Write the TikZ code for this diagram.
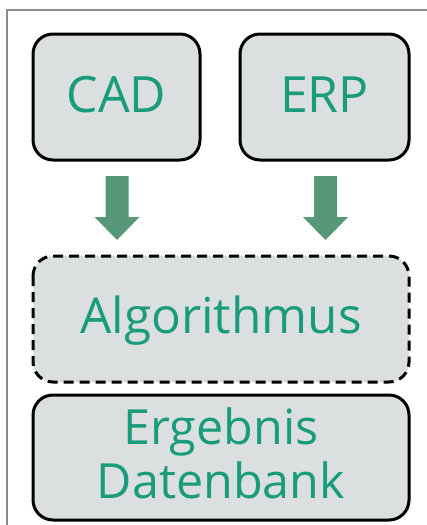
\documentclass[tikz,border=0pt]{standalone}
\usepackage{fontspec}
\setmainfont{Open Sans}
\definecolor{txtgreen}{RGB}{24,156,124}
\definecolor{arrgreen}{RGB}{88,152,122}
\definecolor{boxgray}{RGB}{220,223,224}
\definecolor{framegray}{RGB}{140,140,140}
\tikzset{
  box/.style={draw=black, line width=3pt, fill=boxgray, rounded corners=20pt, inner sep=0pt},
  dbox/.style={box, dash pattern=on 10pt off 6pt},
  lbl/.style={text=txtgreen, font=\fontsize{50}{54}\selectfont, align=center, inner sep=0pt},
  bigarrow/.style={fill=arrgreen, draw=none}
}
\begin{document}
\begin{tikzpicture}[x=1pt,y=-1pt]
\useasboundingbox (0,0) rectangle (426,525);
% frame
\draw[framegray, line width=2pt] (7,526) -- (7,10) -- (427,10);
% boxes
\draw[box] (33,34) rectangle (200,160);
\draw[box] (240,34) rectangle (409,160);
\draw[dbox] (33,256) rectangle (409,382);
\draw[box] (33,395) rectangle (409,520);
\node[lbl, anchor=base] (cad) at (116.5,112) {CAD};
\node[lbl, anchor=base] (erp) at (324.5,112) {ERP};
\node[lbl, anchor=base, font=\fontsize{49.5}{54}\selectfont] (alg) at (221,333) {Algorithmus};
\node[lbl, font=\fontsize{48.5}{54}\selectfont] (erg) at (221,453) {Ergebnis\\Datenbank};
% arrows
\coordinate (a1) at (117,176);
\coordinate (a2) at (325.5,176);
\foreach \c in {a1,a2}{
  \fill[bigarrow] (\c) ++(-11.5,0) -- ++(0,41) -- ++(-11,0) -- ++(22.5,23) -- ++(22.5,-23) -- ++(-11,0) -- ++(0,-41) -- cycle;
}
\end{tikzpicture}
\end{document}
